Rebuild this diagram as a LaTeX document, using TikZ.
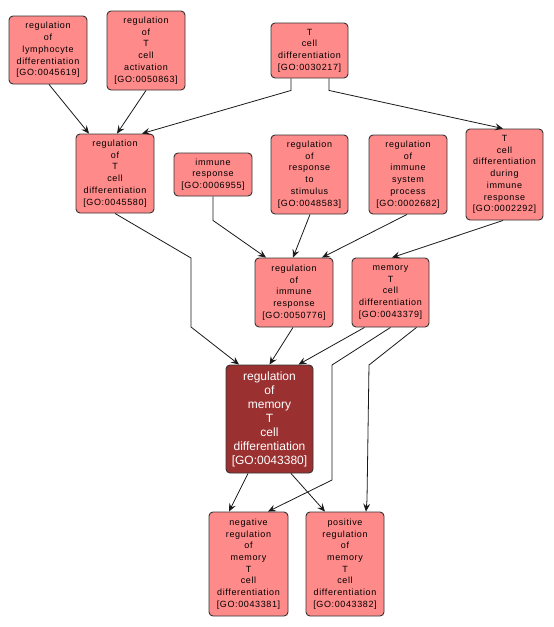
\documentclass[tikz,border=0pt]{standalone}
\usepackage{fontspec}
\setmainfont{Liberation Sans}[LetterSpace=7]
\newfontfamily\mainfont{Liberation Sans}
\usetikzlibrary{arrows.meta}
\definecolor{goclair}{RGB}{255,138,138}
\definecolor{gofonce}{RGB}{155,48,48}
\begin{document}
\begin{tikzpicture}[x=1pt,y=-1pt,
    terme/.style={draw=black!80,line width=0.9pt,fill=goclair,rounded corners=4pt,align=center,
        inner sep=0pt,font=\fontsize{9}{11.7}\selectfont},
    cible/.style={terme,fill=gofonce,text=white,font=\mainfont\fontsize{12}{14}\selectfont},
    lien/.style={draw=black!90,line width=0.8pt,-{Stealth[length=8pt,width=7pt,inset=3pt]}}]
        \useasboundingbox (0,0) rectangle (554,627);

        % Termes du haut
        \node[terme,minimum width=78,minimum height=68] (t45619) at (48,50)
            {regulation\\of\\lymphocyte\\differentiation\\{[}GO:0045619{]}};
        \node[terme,minimum width=78,minimum height=79] (t50863) at (146,50.5)
            {regulation\\of\\T\\cell\\activation\\{[}GO:0050863{]}};
        \node[terme,minimum width=77,minimum height=55] (t30217) at (309.5,50.5)
            {T\\cell\\differentiation\\{[}GO:0030217{]}};

        % Deuxieme rangee
        \node[terme,minimum width=78,minimum height=79] (t45580) at (115,173.5)
            {regulation\\of\\T\\cell\\differentiation\\{[}GO:0045580{]}};
        \node[terme,minimum width=78,minimum height=43] (t6955) at (213,174.5)
            {immune\\response\\{[}GO:0006955{]}};
        \node[terme,minimum width=77,minimum height=79] (t48583) at (309.5,174.5)
            {regulation\\of\\response\\to\\stimulus\\{[}GO:0048583{]}};
        \node[terme,minimum width=78,minimum height=79] (t2682) at (408,174.5)
            {regulation\\of\\immune\\system\\process\\{[}GO:0002682{]}};
        \node[terme,minimum width=77,minimum height=91] (t2292) at (504.5,174.5)
            {T\\cell\\differentiation\\during\\immune\\response\\{[}GO:0002292{]}};

        % Troisieme rangee
        \node[terme,minimum width=78,minimum height=69] (t50776) at (294,292.5)
            {regulation\\of\\immune\\response\\{[}GO:0050776{]}};
        \node[terme,minimum width=77,minimum height=69] (t43379) at (390.5,292.5)
            {memory\\T\\cell\\differentiation\\{[}GO:0043379{]}};

        % Terme central
        \node[cible,minimum width=87,minimum height=108] (t43380) at (269.5,419)
            {regulation\\of\\memory\\T\\cell\\differentiation\\{[}GO:0043380{]}};

        % Termes du bas
        \node[terme,minimum width=79,minimum height=104] (t43381) at (248.5,564)
            {negative\\regulation\\of\\memory\\T\\cell\\differentiation\\{[}GO:0043381{]}};
        \node[terme,minimum width=78,minimum height=104] (t43382) at (345,564)
            {positive\\regulation\\of\\memory\\T\\cell\\differentiation\\{[}GO:0043382{]}};

        % Liens
        \draw[lien] ([xshift=1pt]t45619.south) -- ([xshift=-26pt]t45580.north);
        \draw[lien] (t50863.south) -- ([xshift=2pt]t45580.north);
        \draw[lien] ([xshift=-18.5pt]t30217.south) -- ++(0,12) -- ([xshift=27pt]t45580.north);
        \draw[lien] ([xshift=19.5pt]t30217.south) -- ++(0,12) -- ([xshift=-1.5pt]t2292.north);
        \draw[lien] (t45580.south) -- (191,258) -- (191,327) -- ([xshift=-30.5pt]t43380.north);
        \draw[lien] (t6955.south) -- ++(0,24) -- ([xshift=-28pt]t50776.north);
        \draw[lien] ([xshift=0.5pt]t48583.south) -- ([xshift=-1pt]t50776.north);
        \draw[lien] ([xshift=-1pt]t2682.south) -- ([xshift=28pt]t50776.north);
        \draw[lien] ([xshift=-1.5pt]t2292.south) -- ([xshift=1.5pt]t43379.north);
        \draw[lien] ([xshift=-1pt]t50776.south) -- (t43380.north);
        \draw[lien] ([xshift=-26pt]t43379.south) -- ([xshift=29pt]t43380.north);
        \draw[lien] (t43379.south) -- (332,365) -- (332,480) -- ([xshift=19.5pt]t43381.north);
        \draw[lien] ([xshift=26pt]t43379.south) -- (369,365) -- (367,500) -- ([xshift=21pt]t43382.north);
        \draw[lien] ([xshift=-21.5pt]t43380.south) -- ([xshift=-19.5pt]t43381.north);
        \draw[lien] ([xshift=21.5pt]t43380.south) -- ([xshift=-20pt]t43382.north);
    \end{tikzpicture}
\end{document}
